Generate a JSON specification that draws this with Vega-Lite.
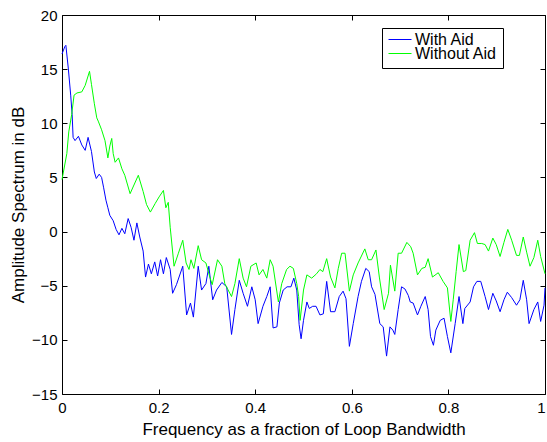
{
  "$schema": "https://vega.github.io/schema/vega-lite/v6.json",
  "width": 483,
  "height": 379,
  "autosize": {"type": "none"},
  "padding": {"left": 62, "top": 15, "right": 2, "bottom": 48},
  "background": "white",
  "config": {
    "font": "Liberation Sans",
    "view": {"stroke": null},
    "axis": {
      "domainColor": "black",
      "tickColor": "black",
      "labelColor": "black",
      "titleColor": "black",
      "labelFont": "Liberation Sans",
      "titleFont": "Liberation Sans",
      "labelFontSize": 15,
      "titleFontSize": 17,
      "titleFontWeight": "normal",
      "grid": false,
      "tickSize": -5,
      "domainWidth": 1,
      "tickWidth": 1
    },
    "legend": {
      "labelFont": "Liberation Sans",
      "labelFontSize": 16,
      "labelColor": "black"
    }
  },
  "data": {
    "values": [
      {"f": 0.000, "v": 16.4, "s": "With Aid"},
      {"f": 0.006, "v": 17.1, "s": "With Aid"},
      {"f": 0.008, "v": 17.2, "s": "With Aid"},
      {"f": 0.013, "v": 15.1, "s": "With Aid"},
      {"f": 0.018, "v": 12.6, "s": "With Aid"},
      {"f": 0.021, "v": 10.8, "s": "With Aid"},
      {"f": 0.023, "v": 8.7, "s": "With Aid"},
      {"f": 0.027, "v": 8.4, "s": "With Aid"},
      {"f": 0.034, "v": 8.8, "s": "With Aid"},
      {"f": 0.041, "v": 8.0, "s": "With Aid"},
      {"f": 0.048, "v": 7.5, "s": "With Aid"},
      {"f": 0.054, "v": 8.7, "s": "With Aid"},
      {"f": 0.061, "v": 7.4, "s": "With Aid"},
      {"f": 0.067, "v": 5.5, "s": "With Aid"},
      {"f": 0.071, "v": 4.9, "s": "With Aid"},
      {"f": 0.077, "v": 5.3, "s": "With Aid"},
      {"f": 0.082, "v": 5.0, "s": "With Aid"},
      {"f": 0.086, "v": 4.1, "s": "With Aid"},
      {"f": 0.091, "v": 2.9, "s": "With Aid"},
      {"f": 0.095, "v": 2.2, "s": "With Aid"},
      {"f": 0.099, "v": 1.5, "s": "With Aid"},
      {"f": 0.106, "v": 1.0, "s": "With Aid"},
      {"f": 0.112, "v": 0.2, "s": "With Aid"},
      {"f": 0.118, "v": -0.3, "s": "With Aid"},
      {"f": 0.124, "v": 0.3, "s": "With Aid"},
      {"f": 0.130, "v": -0.2, "s": "With Aid"},
      {"f": 0.137, "v": 1.2, "s": "With Aid"},
      {"f": 0.143, "v": 0.4, "s": "With Aid"},
      {"f": 0.149, "v": -0.8, "s": "With Aid"},
      {"f": 0.155, "v": 0.8, "s": "With Aid"},
      {"f": 0.161, "v": -0.5, "s": "With Aid"},
      {"f": 0.168, "v": -1.8, "s": "With Aid"},
      {"f": 0.173, "v": -4.2, "s": "With Aid"},
      {"f": 0.179, "v": -3.0, "s": "With Aid"},
      {"f": 0.185, "v": -3.9, "s": "With Aid"},
      {"f": 0.192, "v": -2.8, "s": "With Aid"},
      {"f": 0.198, "v": -4.1, "s": "With Aid"},
      {"f": 0.204, "v": -2.6, "s": "With Aid"},
      {"f": 0.210, "v": -3.9, "s": "With Aid"},
      {"f": 0.216, "v": -2.4, "s": "With Aid"},
      {"f": 0.224, "v": -3.5, "s": "With Aid"},
      {"f": 0.229, "v": -5.7, "s": "With Aid"},
      {"f": 0.237, "v": -4.9, "s": "With Aid"},
      {"f": 0.250, "v": -3.2, "s": "With Aid"},
      {"f": 0.258, "v": -7.7, "s": "With Aid"},
      {"f": 0.266, "v": -6.6, "s": "With Aid"},
      {"f": 0.272, "v": -7.9, "s": "With Aid"},
      {"f": 0.282, "v": -3.2, "s": "With Aid"},
      {"f": 0.289, "v": -5.4, "s": "With Aid"},
      {"f": 0.298, "v": -4.8, "s": "With Aid"},
      {"f": 0.304, "v": -3.2, "s": "With Aid"},
      {"f": 0.312, "v": -6.3, "s": "With Aid"},
      {"f": 0.320, "v": -5.4, "s": "With Aid"},
      {"f": 0.331, "v": -4.7, "s": "With Aid"},
      {"f": 0.341, "v": -5.1, "s": "With Aid"},
      {"f": 0.351, "v": -9.5, "s": "With Aid"},
      {"f": 0.358, "v": -7.2, "s": "With Aid"},
      {"f": 0.367, "v": -4.5, "s": "With Aid"},
      {"f": 0.375, "v": -5.7, "s": "With Aid"},
      {"f": 0.384, "v": -6.9, "s": "With Aid"},
      {"f": 0.393, "v": -5.1, "s": "With Aid"},
      {"f": 0.400, "v": -6.3, "s": "With Aid"},
      {"f": 0.406, "v": -8.5, "s": "With Aid"},
      {"f": 0.416, "v": -6.9, "s": "With Aid"},
      {"f": 0.424, "v": -6.0, "s": "With Aid"},
      {"f": 0.431, "v": -5.1, "s": "With Aid"},
      {"f": 0.437, "v": -8.9, "s": "With Aid"},
      {"f": 0.445, "v": -8.8, "s": "With Aid"},
      {"f": 0.450, "v": -6.6, "s": "With Aid"},
      {"f": 0.458, "v": -5.4, "s": "With Aid"},
      {"f": 0.466, "v": -5.1, "s": "With Aid"},
      {"f": 0.474, "v": -5.1, "s": "With Aid"},
      {"f": 0.480, "v": -4.3, "s": "With Aid"},
      {"f": 0.486, "v": -5.4, "s": "With Aid"},
      {"f": 0.491, "v": -8.6, "s": "With Aid"},
      {"f": 0.495, "v": -9.9, "s": "With Aid"},
      {"f": 0.500, "v": -8.2, "s": "With Aid"},
      {"f": 0.507, "v": -6.5, "s": "With Aid"},
      {"f": 0.512, "v": -7.1, "s": "With Aid"},
      {"f": 0.519, "v": -6.9, "s": "With Aid"},
      {"f": 0.526, "v": -6.9, "s": "With Aid"},
      {"f": 0.534, "v": -7.7, "s": "With Aid"},
      {"f": 0.541, "v": -7.6, "s": "With Aid"},
      {"f": 0.548, "v": -4.6, "s": "With Aid"},
      {"f": 0.556, "v": -7.4, "s": "With Aid"},
      {"f": 0.565, "v": -7.4, "s": "With Aid"},
      {"f": 0.574, "v": -6.0, "s": "With Aid"},
      {"f": 0.582, "v": -5.5, "s": "With Aid"},
      {"f": 0.588, "v": -6.2, "s": "With Aid"},
      {"f": 0.595, "v": -10.6, "s": "With Aid"},
      {"f": 0.603, "v": -8.5, "s": "With Aid"},
      {"f": 0.613, "v": -6.0, "s": "With Aid"},
      {"f": 0.620, "v": -4.6, "s": "With Aid"},
      {"f": 0.629, "v": -3.4, "s": "With Aid"},
      {"f": 0.636, "v": -3.7, "s": "With Aid"},
      {"f": 0.641, "v": -5.1, "s": "With Aid"},
      {"f": 0.648, "v": -5.8, "s": "With Aid"},
      {"f": 0.658, "v": -8.5, "s": "With Aid"},
      {"f": 0.665, "v": -8.8, "s": "With Aid"},
      {"f": 0.672, "v": -11.5, "s": "With Aid"},
      {"f": 0.679, "v": -8.8, "s": "With Aid"},
      {"f": 0.685, "v": -9.1, "s": "With Aid"},
      {"f": 0.689, "v": -9.5, "s": "With Aid"},
      {"f": 0.696, "v": -7.2, "s": "With Aid"},
      {"f": 0.703, "v": -5.1, "s": "With Aid"},
      {"f": 0.710, "v": -5.3, "s": "With Aid"},
      {"f": 0.717, "v": -5.9, "s": "With Aid"},
      {"f": 0.721, "v": -6.5, "s": "With Aid"},
      {"f": 0.727, "v": -6.6, "s": "With Aid"},
      {"f": 0.736, "v": -7.7, "s": "With Aid"},
      {"f": 0.743, "v": -6.9, "s": "With Aid"},
      {"f": 0.752, "v": -6.0, "s": "With Aid"},
      {"f": 0.758, "v": -7.2, "s": "With Aid"},
      {"f": 0.763, "v": -9.7, "s": "With Aid"},
      {"f": 0.769, "v": -10.5, "s": "With Aid"},
      {"f": 0.774, "v": -9.1, "s": "With Aid"},
      {"f": 0.783, "v": -8.2, "s": "With Aid"},
      {"f": 0.791, "v": -8.0, "s": "With Aid"},
      {"f": 0.798, "v": -9.7, "s": "With Aid"},
      {"f": 0.805, "v": -11.2, "s": "With Aid"},
      {"f": 0.814, "v": -8.5, "s": "With Aid"},
      {"f": 0.822, "v": -6.0, "s": "With Aid"},
      {"f": 0.830, "v": -8.5, "s": "With Aid"},
      {"f": 0.834, "v": -7.1, "s": "With Aid"},
      {"f": 0.845, "v": -6.5, "s": "With Aid"},
      {"f": 0.852, "v": -5.1, "s": "With Aid"},
      {"f": 0.859, "v": -4.6, "s": "With Aid"},
      {"f": 0.867, "v": -4.6, "s": "With Aid"},
      {"f": 0.876, "v": -6.0, "s": "With Aid"},
      {"f": 0.883, "v": -7.2, "s": "With Aid"},
      {"f": 0.892, "v": -5.7, "s": "With Aid"},
      {"f": 0.899, "v": -6.4, "s": "With Aid"},
      {"f": 0.907, "v": -7.4, "s": "With Aid"},
      {"f": 0.915, "v": -6.3, "s": "With Aid"},
      {"f": 0.922, "v": -5.6, "s": "With Aid"},
      {"f": 0.931, "v": -6.1, "s": "With Aid"},
      {"f": 0.941, "v": -6.8, "s": "With Aid"},
      {"f": 0.948, "v": -6.3, "s": "With Aid"},
      {"f": 0.955, "v": -4.5, "s": "With Aid"},
      {"f": 0.962, "v": -6.3, "s": "With Aid"},
      {"f": 0.967, "v": -8.5, "s": "With Aid"},
      {"f": 0.977, "v": -7.2, "s": "With Aid"},
      {"f": 0.985, "v": -6.5, "s": "With Aid"},
      {"f": 0.991, "v": -8.3, "s": "With Aid"},
      {"f": 0.998, "v": -6.8, "s": "With Aid"},
      {"f": 1.000, "v": -5.2, "s": "With Aid"},

      {"f": 0.000, "v": 4.8, "s": "Without Aid"},
      {"f": 0.010, "v": 7.2, "s": "Without Aid"},
      {"f": 0.014, "v": 9.2, "s": "Without Aid"},
      {"f": 0.020, "v": 10.8, "s": "Without Aid"},
      {"f": 0.025, "v": 12.6, "s": "Without Aid"},
      {"f": 0.031, "v": 12.8, "s": "Without Aid"},
      {"f": 0.041, "v": 12.9, "s": "Without Aid"},
      {"f": 0.048, "v": 13.5, "s": "Without Aid"},
      {"f": 0.057, "v": 14.8, "s": "Without Aid"},
      {"f": 0.061, "v": 13.6, "s": "Without Aid"},
      {"f": 0.067, "v": 11.8, "s": "Without Aid"},
      {"f": 0.072, "v": 10.5, "s": "Without Aid"},
      {"f": 0.075, "v": 10.2, "s": "Without Aid"},
      {"f": 0.082, "v": 9.4, "s": "Without Aid"},
      {"f": 0.089, "v": 8.4, "s": "Without Aid"},
      {"f": 0.095, "v": 6.8, "s": "Without Aid"},
      {"f": 0.099, "v": 7.9, "s": "Without Aid"},
      {"f": 0.103, "v": 8.6, "s": "Without Aid"},
      {"f": 0.106, "v": 7.2, "s": "Without Aid"},
      {"f": 0.110, "v": 6.4, "s": "Without Aid"},
      {"f": 0.117, "v": 6.8, "s": "Without Aid"},
      {"f": 0.124, "v": 5.8, "s": "Without Aid"},
      {"f": 0.130, "v": 5.2, "s": "Without Aid"},
      {"f": 0.141, "v": 3.5, "s": "Without Aid"},
      {"f": 0.149, "v": 4.3, "s": "Without Aid"},
      {"f": 0.158, "v": 5.2, "s": "Without Aid"},
      {"f": 0.168, "v": 3.7, "s": "Without Aid"},
      {"f": 0.175, "v": 2.5, "s": "Without Aid"},
      {"f": 0.183, "v": 1.8, "s": "Without Aid"},
      {"f": 0.193, "v": 2.6, "s": "Without Aid"},
      {"f": 0.201, "v": 3.2, "s": "Without Aid"},
      {"f": 0.210, "v": 3.8, "s": "Without Aid"},
      {"f": 0.215, "v": 2.2, "s": "Without Aid"},
      {"f": 0.220, "v": 2.7, "s": "Without Aid"},
      {"f": 0.224, "v": 0.4, "s": "Without Aid"},
      {"f": 0.232, "v": -3.2, "s": "Without Aid"},
      {"f": 0.241, "v": -2.0, "s": "Without Aid"},
      {"f": 0.250, "v": -0.8, "s": "Without Aid"},
      {"f": 0.257, "v": -2.9, "s": "Without Aid"},
      {"f": 0.263, "v": -3.5, "s": "Without Aid"},
      {"f": 0.267, "v": -2.6, "s": "Without Aid"},
      {"f": 0.273, "v": -3.4, "s": "Without Aid"},
      {"f": 0.282, "v": -1.3, "s": "Without Aid"},
      {"f": 0.289, "v": -2.6, "s": "Without Aid"},
      {"f": 0.298, "v": -2.9, "s": "Without Aid"},
      {"f": 0.306, "v": -4.2, "s": "Without Aid"},
      {"f": 0.311, "v": -4.9, "s": "Without Aid"},
      {"f": 0.322, "v": -2.6, "s": "Without Aid"},
      {"f": 0.331, "v": -3.2, "s": "Without Aid"},
      {"f": 0.337, "v": -4.8, "s": "Without Aid"},
      {"f": 0.351, "v": -6.0, "s": "Without Aid"},
      {"f": 0.358, "v": -4.8, "s": "Without Aid"},
      {"f": 0.367, "v": -2.5, "s": "Without Aid"},
      {"f": 0.375, "v": -4.3, "s": "Without Aid"},
      {"f": 0.382, "v": -5.1, "s": "Without Aid"},
      {"f": 0.391, "v": -3.2, "s": "Without Aid"},
      {"f": 0.402, "v": -2.9, "s": "Without Aid"},
      {"f": 0.408, "v": -4.0, "s": "Without Aid"},
      {"f": 0.416, "v": -3.5, "s": "Without Aid"},
      {"f": 0.424, "v": -4.3, "s": "Without Aid"},
      {"f": 0.431, "v": -2.6, "s": "Without Aid"},
      {"f": 0.437, "v": -3.2, "s": "Without Aid"},
      {"f": 0.448, "v": -6.5, "s": "Without Aid"},
      {"f": 0.455, "v": -4.8, "s": "Without Aid"},
      {"f": 0.465, "v": -3.5, "s": "Without Aid"},
      {"f": 0.472, "v": -3.2, "s": "Without Aid"},
      {"f": 0.479, "v": -3.4, "s": "Without Aid"},
      {"f": 0.486, "v": -4.8, "s": "Without Aid"},
      {"f": 0.490, "v": -6.0, "s": "Without Aid"},
      {"f": 0.493, "v": -8.2, "s": "Without Aid"},
      {"f": 0.500, "v": -5.4, "s": "Without Aid"},
      {"f": 0.507, "v": -4.0, "s": "Without Aid"},
      {"f": 0.517, "v": -4.3, "s": "Without Aid"},
      {"f": 0.527, "v": -3.9, "s": "Without Aid"},
      {"f": 0.534, "v": -3.5, "s": "Without Aid"},
      {"f": 0.540, "v": -3.7, "s": "Without Aid"},
      {"f": 0.548, "v": -2.5, "s": "Without Aid"},
      {"f": 0.556, "v": -4.2, "s": "Without Aid"},
      {"f": 0.565, "v": -5.2, "s": "Without Aid"},
      {"f": 0.572, "v": -3.4, "s": "Without Aid"},
      {"f": 0.579, "v": -2.0, "s": "Without Aid"},
      {"f": 0.586, "v": -2.0, "s": "Without Aid"},
      {"f": 0.595, "v": -5.5, "s": "Without Aid"},
      {"f": 0.603, "v": -4.0, "s": "Without Aid"},
      {"f": 0.613, "v": -2.9, "s": "Without Aid"},
      {"f": 0.627, "v": -1.6, "s": "Without Aid"},
      {"f": 0.634, "v": -2.6, "s": "Without Aid"},
      {"f": 0.641, "v": -2.6, "s": "Without Aid"},
      {"f": 0.650, "v": -1.7, "s": "Without Aid"},
      {"f": 0.657, "v": -4.2, "s": "Without Aid"},
      {"f": 0.667, "v": -7.2, "s": "Without Aid"},
      {"f": 0.676, "v": -5.7, "s": "Without Aid"},
      {"f": 0.680, "v": -3.1, "s": "Without Aid"},
      {"f": 0.689, "v": -5.5, "s": "Without Aid"},
      {"f": 0.696, "v": -2.0, "s": "Without Aid"},
      {"f": 0.703, "v": -2.0, "s": "Without Aid"},
      {"f": 0.714, "v": -1.0, "s": "Without Aid"},
      {"f": 0.722, "v": -1.4, "s": "Without Aid"},
      {"f": 0.727, "v": -2.0, "s": "Without Aid"},
      {"f": 0.736, "v": -4.0, "s": "Without Aid"},
      {"f": 0.745, "v": -3.4, "s": "Without Aid"},
      {"f": 0.752, "v": -3.3, "s": "Without Aid"},
      {"f": 0.758, "v": -2.5, "s": "Without Aid"},
      {"f": 0.767, "v": -4.2, "s": "Without Aid"},
      {"f": 0.779, "v": -3.8, "s": "Without Aid"},
      {"f": 0.789, "v": -4.6, "s": "Without Aid"},
      {"f": 0.798, "v": -5.2, "s": "Without Aid"},
      {"f": 0.805, "v": -8.3, "s": "Without Aid"},
      {"f": 0.810, "v": -6.3, "s": "Without Aid"},
      {"f": 0.816, "v": -3.7, "s": "Without Aid"},
      {"f": 0.822, "v": -1.2, "s": "Without Aid"},
      {"f": 0.831, "v": -3.7, "s": "Without Aid"},
      {"f": 0.836, "v": -3.6, "s": "Without Aid"},
      {"f": 0.845, "v": -0.8, "s": "Without Aid"},
      {"f": 0.854, "v": -0.1, "s": "Without Aid"},
      {"f": 0.860, "v": -1.1, "s": "Without Aid"},
      {"f": 0.869, "v": -1.1, "s": "Without Aid"},
      {"f": 0.876, "v": -1.2, "s": "Without Aid"},
      {"f": 0.883, "v": -1.8, "s": "Without Aid"},
      {"f": 0.892, "v": -0.6, "s": "Without Aid"},
      {"f": 0.899, "v": -1.2, "s": "Without Aid"},
      {"f": 0.907, "v": -2.3, "s": "Without Aid"},
      {"f": 0.915, "v": -1.0, "s": "Without Aid"},
      {"f": 0.923, "v": 0.2, "s": "Without Aid"},
      {"f": 0.931, "v": -0.8, "s": "Without Aid"},
      {"f": 0.941, "v": -2.2, "s": "Without Aid"},
      {"f": 0.947, "v": -2.2, "s": "Without Aid"},
      {"f": 0.955, "v": -0.5, "s": "Without Aid"},
      {"f": 0.962, "v": -1.9, "s": "Without Aid"},
      {"f": 0.969, "v": -3.2, "s": "Without Aid"},
      {"f": 0.977, "v": -2.4, "s": "Without Aid"},
      {"f": 0.985, "v": -0.8, "s": "Without Aid"},
      {"f": 0.991, "v": -2.3, "s": "Without Aid"},
      {"f": 1.000, "v": -3.9, "s": "Without Aid"}
    ]
  },
  "resolve": {"axis": {"x": "independent", "y": "independent"}},
  "layer": [
    {
      "transform": [{"filter": "datum.s === 'With Aid'"}],
      "mark": {"type": "line", "strokeWidth": 1, "interpolate": "linear"},
      "encoding": {
        "x": {
          "field": "f", "type": "quantitative",
          "scale": {"domain": [0, 1], "nice": false, "zero": false},
          "axis": {"orient": "bottom", "values": [0, 0.2, 0.4, 0.6, 0.8, 1], "format": "~g",
                   "title": "Frequency as a fraction of Loop Bandwidth", "labelPadding": 11, "titlePadding": 6, "labelFlush": false,
                   "labelAlign": {"condition": {"test": "datum.value === 1", "value": "right"}, "value": "center"}}
        },
        "y": {
          "field": "v", "type": "quantitative",
          "scale": {"domain": [-15, 20], "nice": false, "zero": false},
          "axis": {"orient": "left", "values": [-15, -10, -5, 0, 5, 10, 15, 20], "format": "d",
                   "title": "Amplitude Spectrum in dB", "labelPadding": 10, "titlePadding": 4, "labelFlush": false}
        },
        "color": {
          "field": "s", "type": "nominal",
          "scale": {"domain": ["With Aid", "Without Aid"], "range": ["#0000ff", "#00ff00"]},
          "legend": {
            "title": null, "orient": "none", "legendX": 320, "legendY": 13,
            "symbolType": "stroke", "symbolSize": 529, "symbolStrokeWidth": 1,
            "strokeColor": "black", "fillColor": "white", "padding": 6, "rowPadding": -4,
            "clipHeight": 11, "labelOffset": 3
          }
        }
      }
    },
    {
      "transform": [{"filter": "datum.s === 'Without Aid'"}],
      "mark": {"type": "line", "strokeWidth": 1, "interpolate": "linear"},
      "encoding": {
        "x": {
          "field": "f", "type": "quantitative",
          "scale": {"domain": [0, 1], "nice": false, "zero": false},
          "axis": {"orient": "top", "values": [0, 0.2, 0.4, 0.6, 0.8, 1], "labels": false, "title": null}
        },
        "y": {
          "field": "v", "type": "quantitative",
          "scale": {"domain": [-15, 20], "nice": false, "zero": false},
          "axis": {"orient": "right", "values": [-15, -10, -5, 0, 5, 10, 15, 20], "labels": false, "title": null}
        },
        "color": {"field": "s", "type": "nominal"}
      }
    }
  ]
}
